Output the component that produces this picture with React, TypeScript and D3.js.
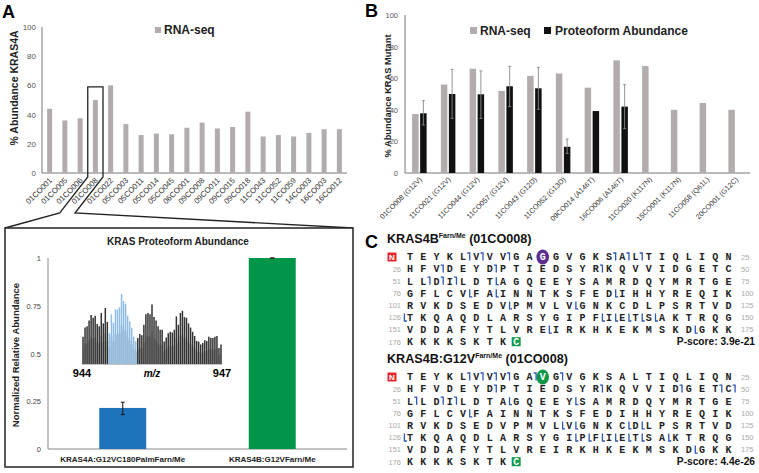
import * as d3 from "d3";

// ---- panel A : RNA-seq KRAS4A
const rnaSamples = ["01CO001", "01CO005", "01CO006", "01CO008", "01CO022", "05CO003", "05CO011", "05CO014", "05CO045", "06CO001", "09CO008", "09CO011", "09CO015", "09CO018", "11CO043", "11CO052", "11CO059", "14CO003", "16CO003", "16CO012"];
const rnaKras4a = [44, 36, 37.5, 50, 60, 33.5, 26, 27, 26.5, 31, 34.5, 30.5, 31.5, 42, 25, 26, 25, 27.5, 30, 30];
const boxedSample = "01CO008";
const pctTicks = [0, 20, 40, 60, 80, 100];

// ---- panel B : mutant abundance
const mutSamples = ["01CO008 (G12V)", "11CO021 (G12V)", "11CO044 (G12V)", "11CO057 (G12V)", "11CO043 (G12D)", "11CO052 (G13D)", "09CO014 (A146T)", "16CO006 (A146T)", "11CO020 (K117N)", "15CO001 (K117N)", "11CO058 (Q61L)", "20CO001 (G12C)"];
const mutRna = [37.3, 56, 66, 52, 61.5, 63, 54, 71.3, 67.7, 40, 44.3, 40];
const mutProteo = [37.8, 50, 49.8, 54.9, 53.6, 16.6, 39.2, 42, null, null, null, null];
const mutProteoLow = [30.4, 34.6, 34.6, 42, 40.3, 12.4, null, 28, null, null, null, null];
const mutProteoHigh = [45.8, 65.6, 64.6, 67.5, 66.9, 21.5, null, 55.9, null, null, null, null];
const seriesNames = ["RNA-seq", "Proteoform Abundance"];

// ---- inset : proteoform abundance
const proteoforms = ["KRAS4A:G12VC180PalmFarn/Me", "KRAS4B:G12VFarn/Me"];
const proteoformAbund = [0.215, 1];
const proteoformLow = [0.18, 1];
const proteoformHigh = [0.245, 1];
const normTicks = [0, 0.25, 0.5, 0.75, 1];
const spectrum = [39, 52, 54, 62, 70, 66, 69, 57, 54, 73, 58, 80, 60, 44, 71, 59, 78, 78, 81, 100, 90, 86, 69, 61, 52, 39, 32, 37, 43, 41, 56, 71, 73, 71, 85, 67, 62, 54, 49, 49, 32, 38, 44, 46, 45, 49, 68, 56, 73, 76, 67, 66, 58, 52, 46, 40, 33, 32, 28, 30, 34, 33, 39, 37, 37, 39, 40, 23, 28];
const spectrumBlue = [13, 26];
const mzRange = [944, 947];

// ---- panel C : sequences
const rowStarts = [1, 26, 51, 76, 101, 126, 151, 176];
const wtRows = ["TEYKLVVVGAGGVGKSALTIQLIQN", "HFVDEYDPTIEDSYRKQVVIDGETC", "LLDILDTAGQEEYSAMRDQYMRTGE", "GFLCVFAINNTKSFEDIHHYREQIK", "RVKDSEDVPMVLVGNKCDLPSRTVD", "TKQAQDLARSYGIPFIETSAKTRQG", "VDDAFYTLVREIRKHKEKMSKDGKK", "KKKKSKTKC"];
const mutRows = ["TEYKLVVVGAVGVGKSALTIQLIQN", "HFVDEYDPTIEDSYRKQVVIDGETC", "LLDILDTAGQEEYSAMRDQYMRTGE", "GFLCVFAINNTKSFEDIHHYREQIK", "RVKDSEDVPMVLVGNKCDLPSRTVD", "TKQAQDLARSYGIPFIETSAKTRQG", "VDDAFYTLVREIRKHKEKMSKDGKK", "KKKKSKTKC"];
// fragment ions: [row, after column, "n" | "c"]
const wtCleavages = [[0, 5, "n"], [0, 6, "n"], [0, 8, "n"], [0, 16, "n"], [0, 17, "n"], [0, 18, "n"], [1, 3, "n"], [1, 7, "n"], [1, 15, "n"], [2, 2, "n"], [2, 3, "n"], [2, 4, "n"], [2, 7, "c"], [3, 5, "c"], [3, 7, "c"], [3, 16, "c"], [4, 8, "c"], [4, 13, "c"], [5, 0, "c"], [5, 15, "c"], [5, 16, "c"], [5, 17, "c"], [5, 18, "c"], [5, 19, "c"], [6, 11, "c"], [6, 22, "c"]];
const mutCleavages = [[0, 5, "n"], [0, 6, "n"], [0, 7, "n"], [0, 8, "n"], [0, 10, "n"], [0, 12, "n"], [1, 7, "n"], [1, 15, "n"], [1, 21, "n"], [1, 24, "n"], [1, 25, "n"], [2, 1, "n"], [2, 3, "n"], [2, 4, "n"], [2, 8, "c"], [2, 13, "c"], [3, 5, "c"], [4, 12, "c"], [4, 13, "c"], [4, 17, "c"], [4, 18, "c"], [5, 0, "c"], [5, 13, "c"], [5, 14, "c"], [5, 15, "c"], [5, 16, "c"], [5, 17, "c"], [5, 18, "c"], [5, 20, "c"], [6, 22, "c"]];
const proteoformsC = [
  { name: "KRAS4B", sup: "Farn/Me", sample: "(01CO008)", rows: wtRows, cleav: wtCleavages, site: 11, siteColor: "#5b2d8e", pscore: "P-score: 3.9e-21" },
  { name: "KRAS4B:G12V", sup: "Farn/Me", sample: "(01CO008)", rows: mutRows, cleav: mutCleavages, site: 11, siteColor: "#0c9647", pscore: "P-score: 4.4e-26" },
];

const GREY = "#b2acac";
const FONT = "'Liberation Sans', Arial, sans-serif";

function PanelA() {
  const x = d3.scaleBand().domain(rnaSamples).range([42, 347]);
  const y = d3.scaleLinear().domain([0, 100]).range([173, 27]);
  const bw = 5;
  const bx0 = x(boxedSample)!;
  const bx1 = bx0 + x.bandwidth();
  const by = y(59);
  const inset = { x0: 5, x1: 353, y0: 228, y1: 467 };
  return (
    <g fontFamily={FONT}>
      <text x={2} y={18} fontSize={18} fontWeight="bold">A</text>
      <text transform="translate(18,88) rotate(-90)" textAnchor="middle" fontSize={10.5} fontWeight="bold" fill="#222">% Abundance KRAS4A</text>
      {pctTicks.map((t) => (
        <text key={t} x={36} y={y(t) + 3} textAnchor="end" fontSize={8} fill="#555">{t}</text>
      ))}
      <line x1={42} x2={42} y1={y(100)} y2={y(0)} stroke="#777" />
      <line x1={42} x2={347} y1={y(0)} y2={y(0)} stroke="#777" />
      {rnaSamples.map((s, i) => (
        <rect key={s} x={x(s)! + x.bandwidth() / 2 - bw / 2} width={bw} y={y(rnaKras4a[i])} height={y(0) - y(rnaKras4a[i])} fill={GREY} />
      ))}
      {rnaSamples.map((s) => (
        <text key={s} transform={`translate(${x(s)! + x.bandwidth() / 2 + 3},${181}) rotate(-45)`} textAnchor="end" fontSize={7.8} fill="#333">{s}</text>
      ))}
      <rect x={155} y={27} width={6} height={6} fill={GREY} />
      <text x={164} y={34} fontSize={12} fontWeight="bold" fill="#222">RNA-seq</text>
      {/* zoom box to the inset */}
      <path d={`M${inset.x0},${inset.y0} L${bx0 - 28},${213} L${bx0},${177} L${bx0},${by} L${bx1},${by} L${bx1},${177} L${bx1 - 28},${213} L${inset.x1},${inset.y0}`} fill="none" stroke="#222" strokeWidth={1.3} />
      <rect x={inset.x0} y={inset.y0} width={inset.x1 - inset.x0} height={inset.y1 - inset.y0} fill="#fff" stroke="#222" strokeWidth={1.5} />
      <Inset />
    </g>
  );
}

function Inset() {
  const x = d3.scaleBand().domain(proteoforms).range([48, 347]).paddingInner(0.686).paddingOuter(0.343);
  const y = d3.scaleLinear().domain([0, 1]).range([449, 258]);
  const colors = ["#1d74bb", "#00964a"];
  const sx = d3.scaleLinear().domain([0, spectrum.length - 1]).range([83, 221]);
  const sy = d3.scaleLinear().domain([0, 100]).range([364, 294]);
  const isBlue = (i: number) => i >= spectrumBlue[0] && i <= spectrumBlue[1];
  // soft envelope under the peaks, like the rasterised spectrum in the reference
  const envelope = d3.area<number>().x((_, i) => sx(i)).y0(sy(0)).y1((v) => sy(v * 0.55)).curve(d3.curveStep);
  return (
    <g>
      <text x={178} y={245} textAnchor="middle" fontSize={10} fontWeight="bold" fill="#222">KRAS Proteoform Abundance</text>
      <text transform="translate(19,355) rotate(-90)" textAnchor="middle" fontSize={9.5} fontWeight="bold" fill="#222">Normalized Relative Abundance</text>
      {normTicks.map((t) => (
        <text key={t} x={41} y={y(t) + 3} textAnchor="end" fontSize={7.5} fill="#444">{t}</text>
      ))}
      <line x1={48} x2={48} y1={y(1)} y2={y(0)} stroke="#888" />
      <line x1={48} x2={347} y1={y(0)} y2={y(0)} stroke="#888" />
      {proteoforms.map((p, i) => (
        <g key={p}>
          <rect x={x(p)} width={x.bandwidth()} y={y(proteoformAbund[i])} height={y(0) - y(proteoformAbund[i])} fill={colors[i]} />
          <line x1={x(p)! + x.bandwidth() / 2} x2={x(p)! + x.bandwidth() / 2} y1={y(proteoformLow[i])} y2={y(proteoformHigh[i])} stroke="#111" />
          {[proteoformLow[i], proteoformHigh[i]].map((v, k) => (
            <line key={k} x1={x(p)! + x.bandwidth() / 2 - 2} x2={x(p)! + x.bandwidth() / 2 + 2} y1={y(v)} y2={y(v)} stroke="#111" />
          ))}
          <text x={x(p)! + x.bandwidth() / 2} y={462} textAnchor="middle" fontSize={8} fontWeight="bold" fill="#222">{p}</text>
        </g>
      ))}
      <path d={envelope(spectrum)!} fill="#c4c4c4" />
      {spectrum.map((v, i) => (
        <line key={i} x1={sx(i)} x2={sx(i)} y1={sy(0)} y2={sy(v)} strokeWidth={1.5}
          stroke={isBlue(i) ? "#8dbde6" : "#333"} />
      ))}
      <line x1={82} x2={222} y1={364.5} y2={364.5} stroke="#999" strokeWidth={0.6} />
      <text x={82} y={377} textAnchor="middle" fontSize={11} fontWeight="bold">{mzRange[0]}</text>
      <text x={152} y={377} textAnchor="middle" fontSize={10} fontWeight="bold" fontStyle="italic">m/z</text>
      <text x={222} y={377} textAnchor="middle" fontSize={11} fontWeight="bold">{mzRange[1]}</text>
    </g>
  );
}

function PanelB() {
  const x = d3.scaleBand().domain(mutSamples).range([405, 750]);
  const xs = d3.scaleBand().domain(seriesNames).range([0, x.bandwidth()]).paddingInner(0.19).paddingOuter(0.89);
  const y = d3.scaleLinear().domain([0, 100]).range([173, 15]);
  const eb = "#8a8a8a";
  return (
    <g fontFamily={FONT}>
      <text x={365} y={17} fontSize={18} fontWeight="bold">B</text>
      <text transform="translate(391,96) rotate(-90)" textAnchor="middle" fontSize={9.3} fontWeight="bold" fill="#222">% Abundance KRAS Mutant</text>
      {pctTicks.map((t) => (
        <text key={t} x={398} y={y(t) + 3} textAnchor="end" fontSize={7.5} fill="#555">{t}</text>
      ))}
      <line x1={405} x2={405} y1={y(100)} y2={y(0)} stroke="#777" />
      <line x1={405} x2={750} y1={y(0)} y2={y(0)} stroke="#777" />
      {mutSamples.map((s, i) => {
        const x0 = x(s)!;
        const pv = mutProteo[i];
        const lo = mutProteoLow[i];
        const hi = mutProteoHigh[i];
        const cx = x0 + xs(seriesNames[1])! + xs.bandwidth() / 2;
        return (
          <g key={s}>
            <rect x={x0 + xs(seriesNames[0])!} width={xs.bandwidth()} y={y(mutRna[i])} height={y(0) - y(mutRna[i])} fill={GREY} />
            {pv !== null && <rect x={x0 + xs(seriesNames[1])!} width={xs.bandwidth()} y={y(pv)} height={y(0) - y(pv)} fill="#111" />}
            {lo !== null && hi !== null && (
              <g stroke={eb} strokeWidth={0.9}>
                <line x1={cx} x2={cx} y1={y(lo)} y2={y(hi)} />
                <line x1={cx - 1.5} x2={cx + 1.5} y1={y(lo)} y2={y(lo)} />
                <line x1={cx - 1.5} x2={cx + 1.5} y1={y(hi)} y2={y(hi)} />
              </g>
            )}
            <text transform={`translate(${x0 + x.bandwidth() / 2 + 3},${180}) rotate(-45)`} textAnchor="end" fontSize={7.2} fill="#333">{s}</text>
          </g>
        );
      })}
      <rect x={470} y={27} width={7} height={7} fill={GREY} />
      <text x={480} y={34.5} fontSize={12} fontWeight="bold" fill="#222">{seriesNames[0]}</text>
      <rect x={544} y={27} width={7} height={7} fill="#111" />
      <text x={555} y={34.5} fontSize={12} fontWeight="bold" fill="#222">{seriesNames[1]}</text>
    </g>
  );
}

function Sequence({ p, top }: { p: typeof proteoformsC[number]; top: number }) {
  const col = d3.scaleBand<number>().domain(d3.range(1, 26)).range([403.4, 735.1]);
  const row = d3.scaleLinear().domain([0, 7]).range([top + 14, top + 98.7]);
  const cx = (c: number) => col(c)! + col.bandwidth() / 2;
  const blue = "#2f58b0";
  return (
    <g>
      <text x={387} y={top} fontFamily={FONT} fontSize={12.6} fontWeight="bold" fill="#111">
        {p.name}
        <tspan fontSize={7} dy={-5}>{p.sup}</tspan>
        <tspan dy={5}> {p.sample}</tspan>
      </text>
      {p.rows.map((r, ri) => (
        <g key={ri}>
          {ri === 0 ? (
            <g>
              <rect x={387.5} y={row(0) - 4.5} width={9} height={9} fill="#e8262b" />
              <text x={392} y={row(0) + 3.2} textAnchor="middle" fontFamily={FONT} fontSize={8} fontWeight="bold" fill="#fff">N</text>
            </g>
          ) : (
            <text x={401} y={row(ri) + 2.8} textAnchor="end" fontFamily={FONT} fontSize={7.5} fill="#aaa">{rowStarts[ri]}</text>
          )}
          {ri < 7 && <text x={741} y={row(ri) + 2.8} fontFamily={FONT} fontSize={7.5} fill="#aaa">{rowStarts[ri] + 24}</text>}
          {r.split("").map((ch, ci) => {
            const c = ci + 1;
            const isSite = ri === 0 && c === p.site;
            const isC = ri === 7 && c === r.length;
            return (
              <g key={ci}>
                {isSite && <ellipse cx={cx(c)} cy={row(ri)} rx={6.3} ry={7.6} fill={p.siteColor} />}
                {isC && <rect x={cx(c) - 4.5} y={row(ri) - 4.5} width={9} height={9} fill="#0e9a4b" />}
                <text x={cx(c)} y={row(ri) + 3.3} textAnchor="middle" fontFamily="'Liberation Mono', 'Courier New', monospace" fontSize={10} fontWeight="bold" fill={isSite || isC ? "#fff" : "#222"}>{ch}</text>
              </g>
            );
          })}
        </g>
      ))}
      {p.cleav.map(([r, a, k], i) => {
        const gx = col(1)! + col.step() * (a as number) + (a === 0 ? 1 : 0);
        const yc = row(r as number);
        const d = k === "n" ? `M${gx - 2.5},${yc - 4} L${gx},${yc - 4} L${gx},${yc + 3.5}` : `M${gx},${yc - 4} L${gx},${yc + 3.5} L${gx + 2.5},${yc + 3.5}`;
        return <path key={i} d={d} fill="none" stroke={blue} strokeWidth={1.3} />;
      })}
      <text x={755} y={row(7) + 3.5} textAnchor="end" fontFamily={FONT} fontSize={10.2} fontWeight="bold" fill="#111">{p.pscore}</text>
    </g>
  );
}

function PanelC() {
  return (
    <g>
      <text x={365} y={248} fontFamily={FONT} fontSize={18} fontWeight="bold">C</text>
      <Sequence p={proteoformsC[0]} top={243} />
      <Sequence p={proteoformsC[1]} top={363} />
    </g>
  );
}

export default function App() {
  return (
    <svg width={759} height={473} style={{ position: "absolute", left: 0, top: 0, background: "#fff" }}>
      <rect width={759} height={473} fill="#fff" />
      <PanelA />
      <PanelB />
      <PanelC />
    </svg>
  );
}
